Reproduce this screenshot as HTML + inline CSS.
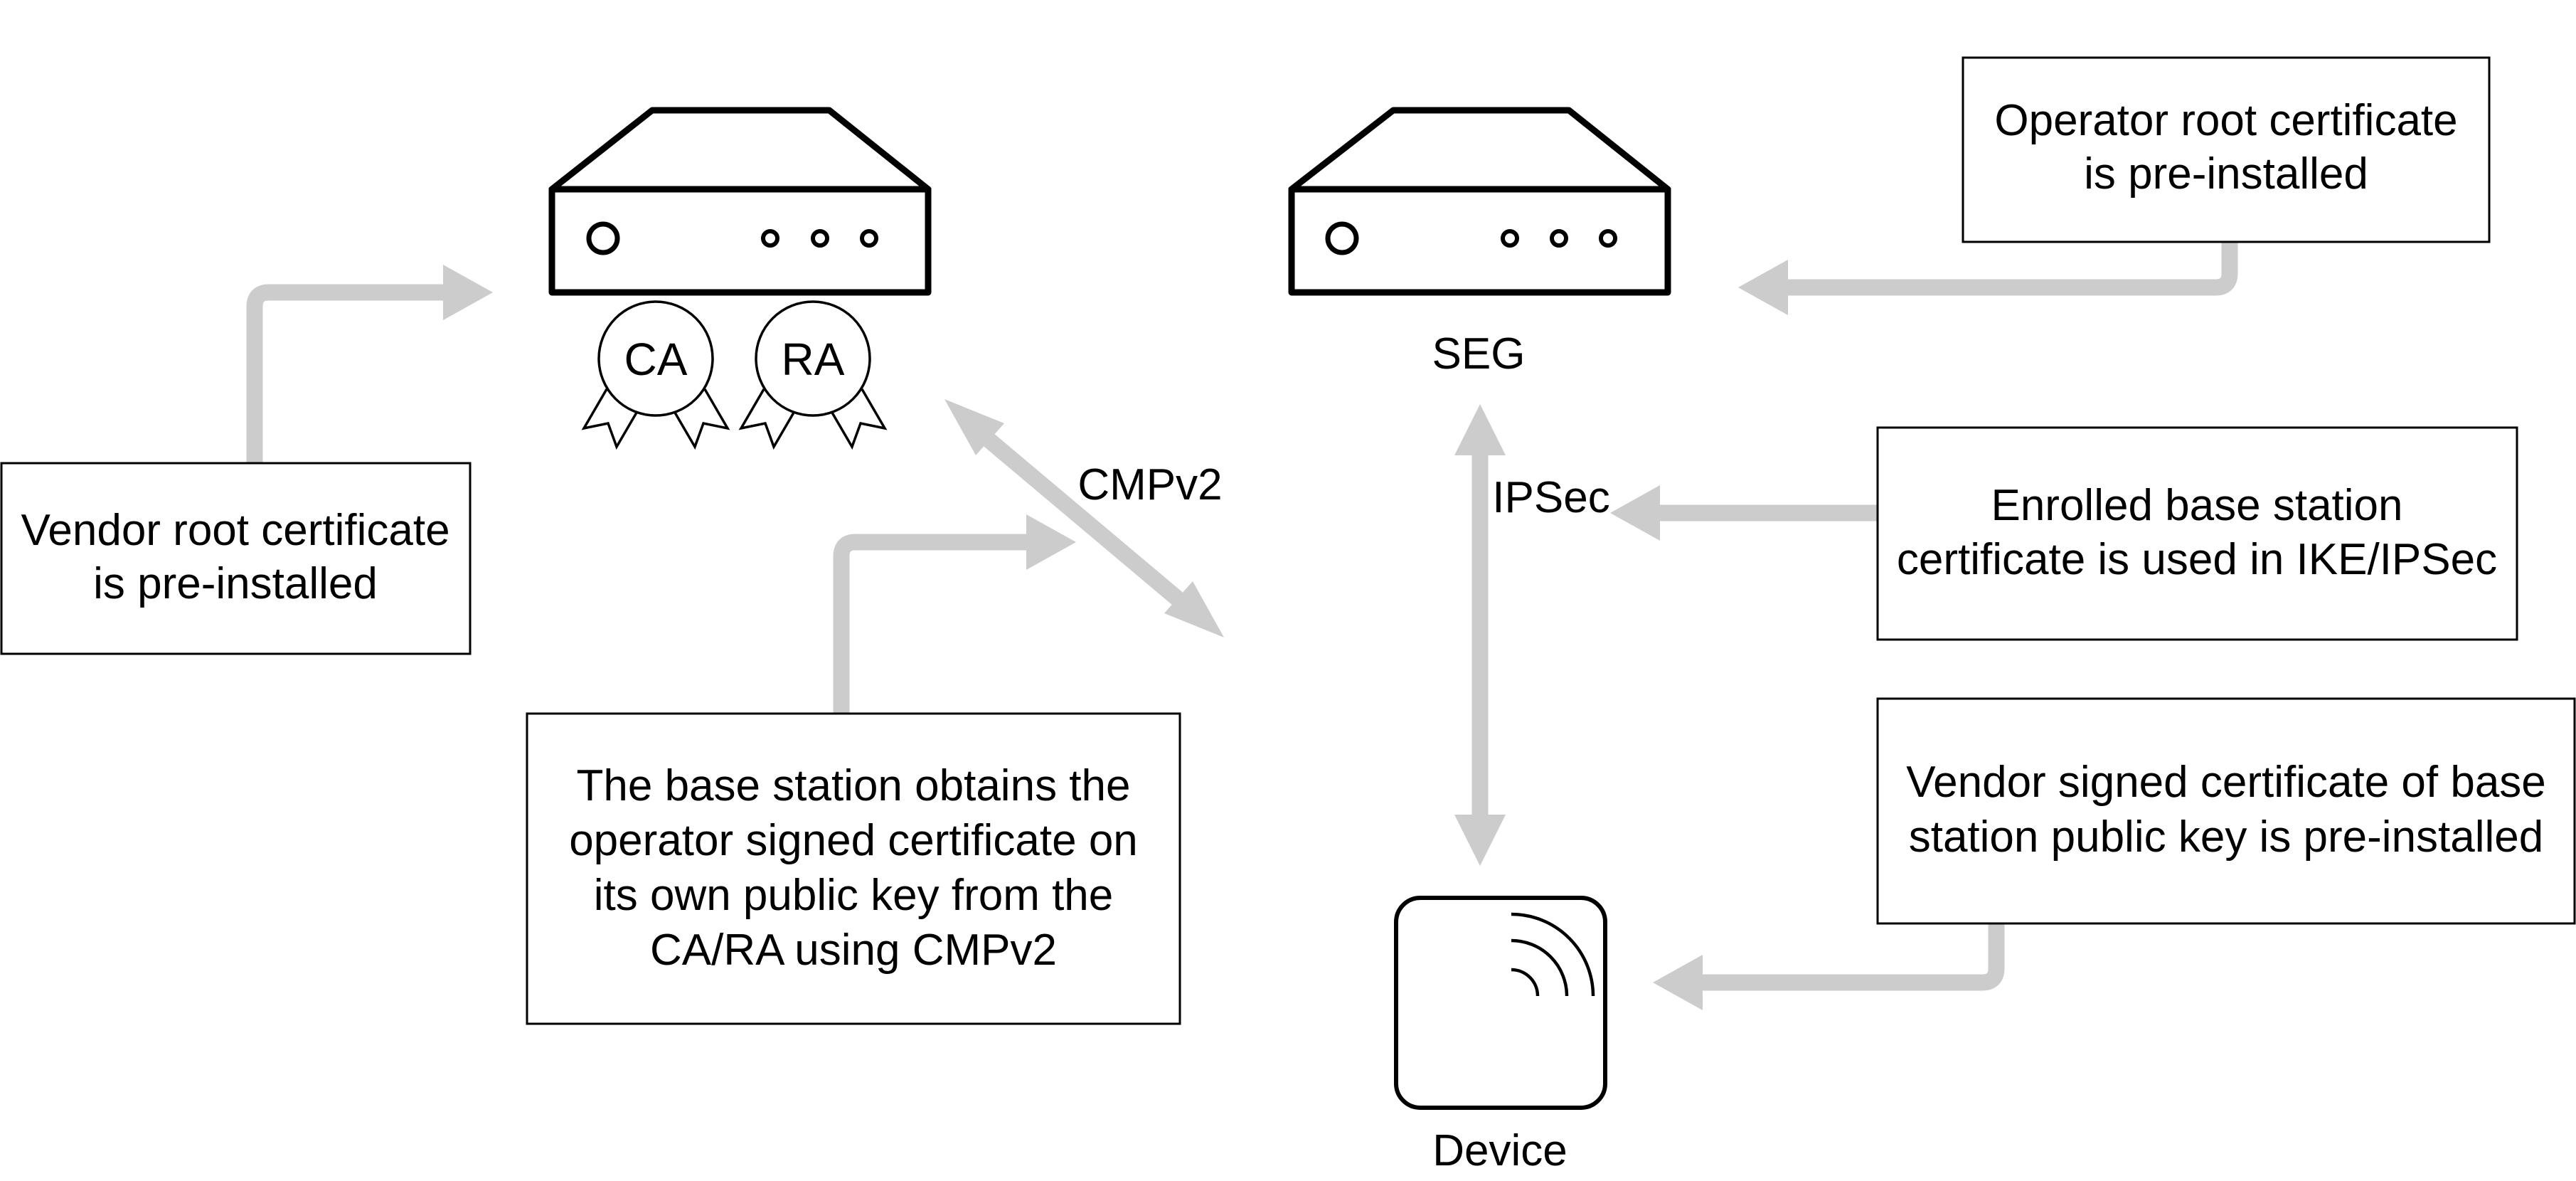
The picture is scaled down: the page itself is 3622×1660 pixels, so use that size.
<!DOCTYPE html>
<html><head><meta charset="utf-8"><style>
html,body{margin:0;padding:0;background:#fff}
svg{display:block}
text{font-family:"Liberation Sans",Arial,sans-serif;fill:#000}
</style></head><body>
<svg width="3622" height="1660" viewBox="0 0 3622 1660" xmlns="http://www.w3.org/2000/svg">
<defs>
<g id="ribbons" fill="#fff" stroke="#000" stroke-width="3.5" stroke-linejoin="miter">
<path d="M-69,43 L-101,98 L-67,91 L-55,124 L-27,76"/>
<path d="M69,43 L101,98 L67,91 L55,124 L27,76"/>
</g>
</defs>
<g fill="none" stroke="#000" stroke-width="9" stroke-linejoin="round">
<path d="M776,266 L917,155 L1166,155 L1305,266 Z" fill="#fff"/>
<rect x="776" y="266" width="529" height="145" fill="#fff"/>
<circle cx="848" cy="335" r="20" stroke-width="7"/>
<circle cx="1083" cy="335" r="10" stroke-width="6"/>
<circle cx="1153" cy="335" r="10" stroke-width="6"/>
<circle cx="1222" cy="335" r="10" stroke-width="6"/>
</g>
<g fill="none" stroke="#000" stroke-width="9" stroke-linejoin="round">
<path d="M1816,266 L1959,155 L2206,155 L2345,266 Z" fill="#fff"/>
<rect x="1816" y="266" width="529" height="145" fill="#fff"/>
<circle cx="1887" cy="335" r="20" stroke-width="7"/>
<circle cx="2123" cy="335" r="10" stroke-width="6"/>
<circle cx="2192" cy="335" r="10" stroke-width="6"/>
<circle cx="2261" cy="335" r="10" stroke-width="6"/>
</g>
<use href="#ribbons" x="922" y="504"/>
<circle cx="922" cy="504" r="80" fill="#fff" stroke="#000" stroke-width="3.5"/>
<text x="922" y="527" font-size="64" text-anchor="middle">CA</text>
<use href="#ribbons" x="1143" y="504"/>
<circle cx="1143" cy="504" r="80" fill="#fff" stroke="#000" stroke-width="3.5"/>
<text x="1143" y="527" font-size="64" text-anchor="middle">RA</text>
<text x="2079" y="518" font-size="62" text-anchor="middle">SEG</text>

<rect x="1963" y="1262" width="294" height="295" rx="34" fill="#fff" stroke="#000" stroke-width="6"/>
<g fill="none" stroke="#000" stroke-width="4.5">
<path d="M2125,1285 A115,115 0 0 1 2240,1400"/>
<path d="M2125,1322 A78,78 0 0 1 2203,1400"/>
<path d="M2125,1363 A37,37 0 0 1 2162,1400"/>
</g>
<text x="2109" y="1638" font-size="62" text-anchor="middle">Device</text>

<g fill="none" stroke="#cccccc" stroke-width="23" stroke-linejoin="round">
<path d="M358,651 L358,431 Q358,411 378,411 L630,411"/>
<path d="M1183,1003 L1183,782 Q1183,762 1203,762 L1450,762"/>
<path d="M3135,340 L3135,384 Q3135,404 3115,404 L2510,404"/>
<path d="M2640,721 L2330,721"/>
<path d="M2807,1298 L2807,1361 Q2807,1381 2787,1381 L2390,1381"/>
<path d="M1365,597 L1680,862"/>
<path d="M2081,630 L2081,1160"/>
</g>
<g fill="#cccccc">
<polygon points="693,411 623,372 623,450"/>
<polygon points="1513,762 1443,723 1443,801"/>
<polygon points="2444,404 2514,365 2514,443"/>
<polygon points="2264,721 2334,682 2334,760"/>
<polygon points="2324,1381 2394,1342 2394,1420"/>
<polygon points="1328,561 1412,595 1372,640"/>
<polygon points="1721,896 1637,862 1677,817"/>
<polygon points="2081,568 2045,640 2117,640"/>
<polygon points="2081,1217 2045,1145 2117,1145"/>
</g>
<text x="1617" y="702" font-size="62" text-anchor="middle">CMPv2</text>
<text x="2181" y="720" font-size="62" text-anchor="middle">IPSec</text>

<g fill="#fff" stroke="#000" stroke-width="3">
<rect x="2" y="651" width="659" height="268"/>
<rect x="741" y="1003" width="918" height="436"/>
<rect x="2760" y="81" width="740" height="259"/>
<rect x="2640" y="601" width="899" height="298"/>
<rect x="2640" y="982" width="980" height="316"/>
</g>
<g font-size="62" text-anchor="middle">
<text x="331" y="766">Vendor root certificate</text>
<text x="331" y="841">is pre-installed</text>
<text x="1200" y="1125">The base station obtains the</text>
<text x="1200" y="1202">operator signed certificate on</text>
<text x="1200" y="1279">its own public key from the</text>
<text x="1200" y="1356">CA/RA using CMPv2</text>
<text x="3130" y="190">Operator root certificate</text>
<text x="3130" y="265">is pre-installed</text>
<text x="3089" y="731">Enrolled base station</text>
<text x="3089" y="807">certificate is used in IKE/IPSec</text>
<text x="3130" y="1120">Vendor signed certificate of base</text>
<text x="3130" y="1197">station public key is pre-installed</text>
</g>
</svg>
</body></html>
